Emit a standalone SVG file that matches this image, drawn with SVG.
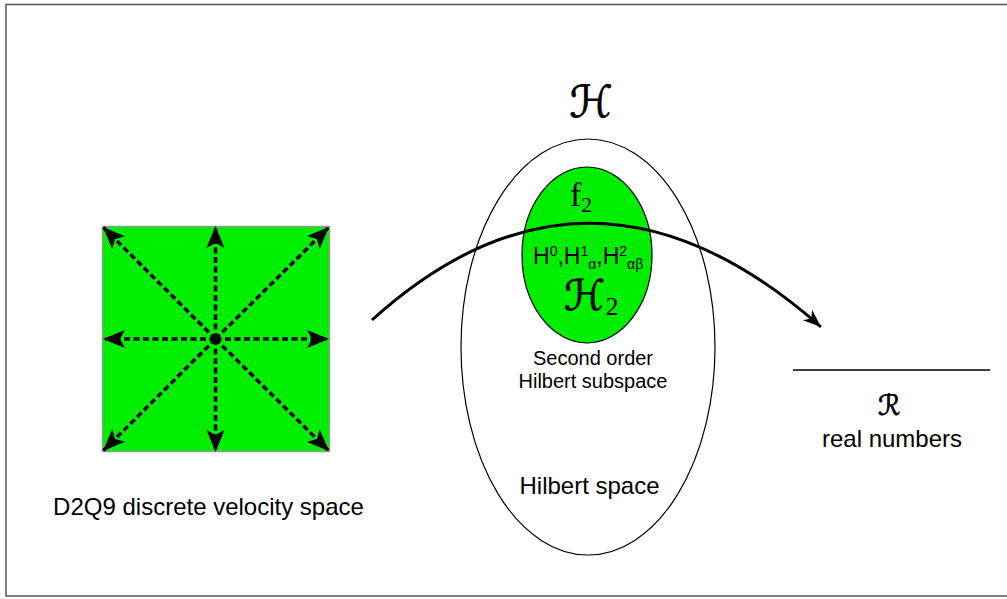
<svg xmlns="http://www.w3.org/2000/svg" width="1007" height="599" viewBox="0 0 1007 599">
<style>
.sans{font-family:"Liberation Sans",Arial,sans-serif;fill:#000}
.serif{font-family:"Liberation Serif","Times New Roman",serif;fill:#000}
.script{font-family:"DejaVu Serif","DejaVu Sans",serif;fill:#000;stroke:#000;stroke-width:0.7}
.vel{stroke:#000;stroke-width:3.5;stroke-dasharray:6,3.5;fill:none;marker-end:url(#ah)}
</style>
<defs>
<marker id="ah" markerUnits="userSpaceOnUse" markerWidth="26" markerHeight="22" refX="22" refY="9" orient="auto" overflow="visible">
<path d="M0,0 L22,9 L0,18 L5,9 z" fill="#000"/>
</marker>
<marker id="ah2" markerUnits="userSpaceOnUse" markerWidth="22" markerHeight="18" refX="18" refY="7" orient="auto" overflow="visible">
<path d="M0,0 L18,7 L0,14 L5,7 z" fill="#000"/>
</marker>
</defs>
<rect x="6" y="4.5" width="1010" height="591.5" fill="#fff" stroke="#555" stroke-width="1.5"/>

<g id="velocity-space">
<rect x="102.5" y="226.5" width="227" height="225" fill="#00ee00" stroke="#999" stroke-width="1.5"/>
<line class="vel" x1="215.5" y1="339" x2="103" y2="227"/>
<line class="vel" x1="215.5" y1="339" x2="215.5" y2="226"/>
<line class="vel" x1="215.5" y1="339" x2="329" y2="227"/>
<line class="vel" x1="215.5" y1="339" x2="103" y2="339"/>
<line class="vel" x1="215.5" y1="339" x2="329" y2="339"/>
<line class="vel" x1="215.5" y1="339" x2="103" y2="451"/>
<line class="vel" x1="215.5" y1="339" x2="215.5" y2="452"/>
<line class="vel" x1="215.5" y1="339" x2="329" y2="451"/>
<circle cx="215.5" cy="339" r="5" fill="#000"/>
<text class="sans" x="208.5" y="515" font-size="24" text-anchor="middle">D2Q9 discrete velocity space</text>
</g>

<g id="hilbert-space">
<ellipse cx="588" cy="347" rx="127" ry="208" fill="none" stroke="#000" stroke-width="1.2"/>
<text class="script" x="591" y="117" font-size="44" text-anchor="middle" font-style="italic">ℋ</text>
<text class="sans" x="589.5" y="494" font-size="24" text-anchor="middle">Hilbert space</text>
</g>

<g id="subspace">
<ellipse cx="587" cy="255" rx="65" ry="88" fill="#00ee00" stroke="#000" stroke-width="1.2"/>
<text class="serif" x="570" y="206" font-size="34">f<tspan font-size="22" dy="6">2</tspan></text>
<text class="sans" x="533" y="264" font-size="23">H<tspan font-size="14" dy="-8">0</tspan><tspan dy="8">,H</tspan><tspan font-size="14" dy="-8">1</tspan><tspan font-size="14" dy="13">α</tspan><tspan dy="-5">,H</tspan><tspan font-size="14" dy="-8">2</tspan><tspan font-size="14" dy="13">αβ</tspan></text>
<text class="script" x="564" y="310" font-size="42" font-style="italic">ℋ<tspan class="serif" font-size="26" font-style="normal" stroke-width="0" dy="5">2</tspan></text>
<text class="sans" x="593" y="365" font-size="20" text-anchor="middle">Second order</text>
<text class="sans" x="593" y="388" font-size="20" text-anchor="middle">Hilbert subspace</text>
</g>

<g id="real-numbers">
<line x1="793" y1="370" x2="990" y2="370" stroke="#000" stroke-width="1.5"/>
<text class="script" x="889" y="415" font-size="28" text-anchor="middle" font-style="italic">ℛ</text>
<text class="sans" x="892" y="447" font-size="24" text-anchor="middle">real numbers</text>
</g>

<g id="connectors">
<path d="M372,320 Q590,123 821,327" fill="none" stroke="#000" stroke-width="3" marker-end="url(#ah2)"/>
</g>
</svg>
